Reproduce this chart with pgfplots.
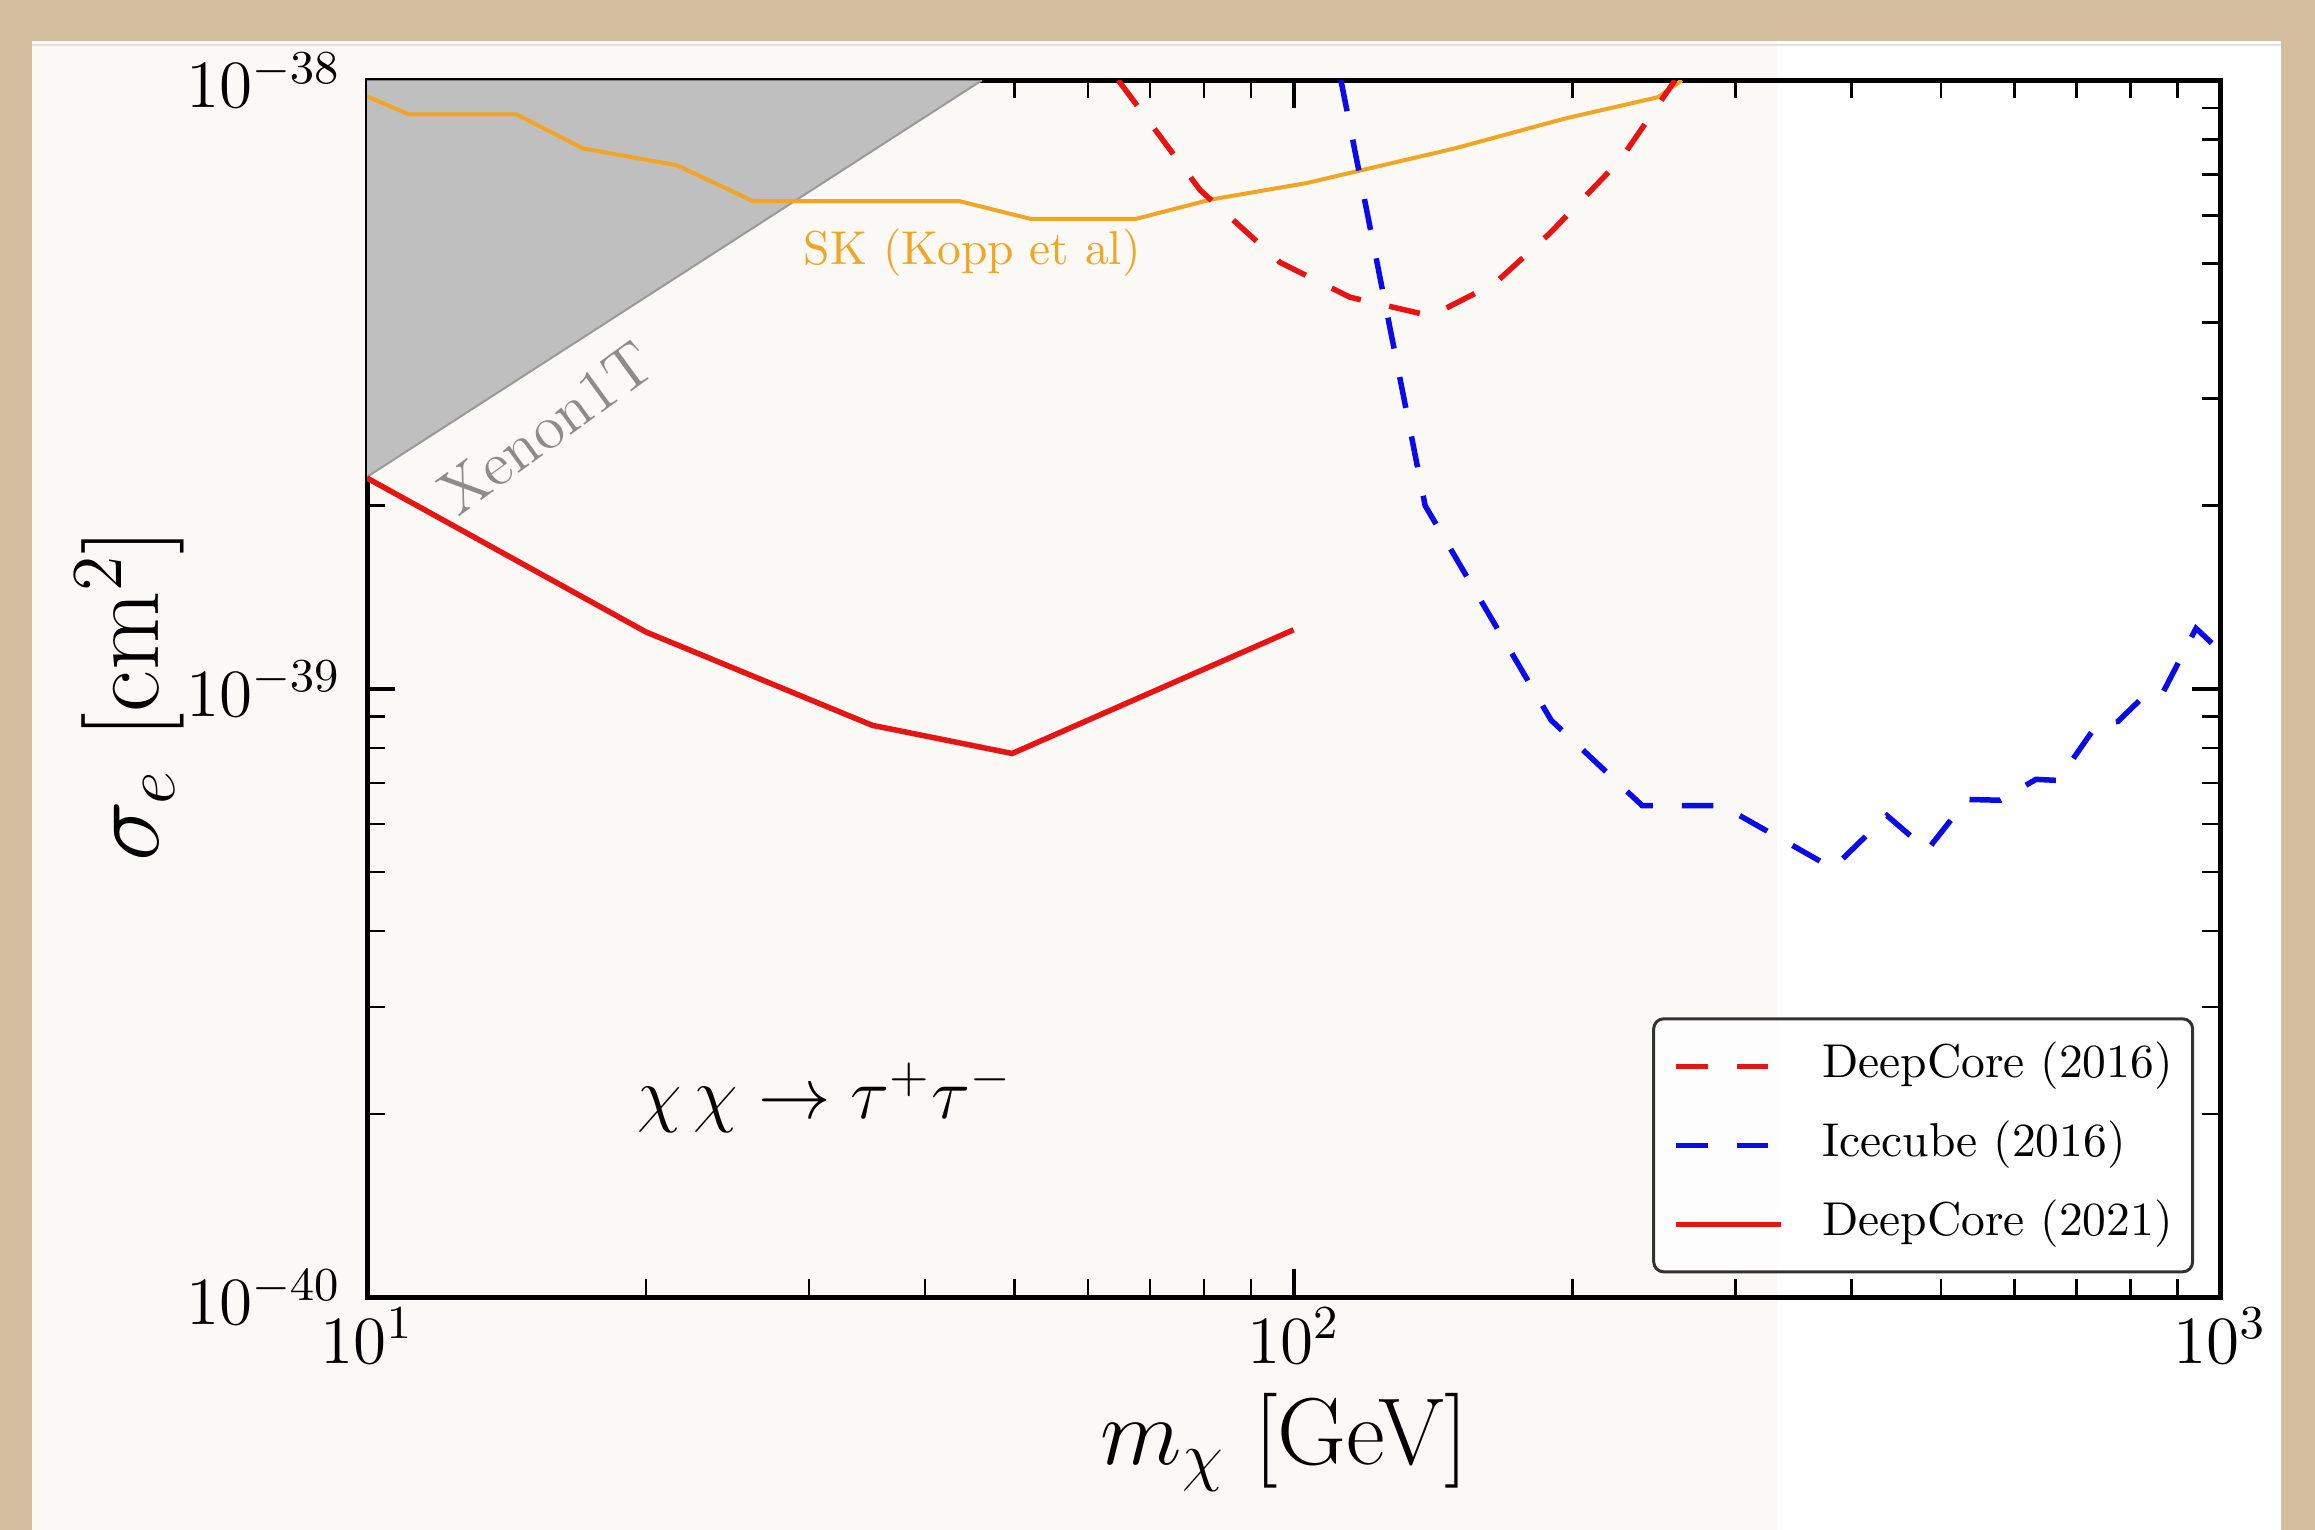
\RequirePackage{fix-cm}
\documentclass[border=0pt]{standalone}
\usepackage{pgfplots}
\pgfplotsset{compat=1.18}
\definecolor{parch}{RGB}{212,190,160}
\definecolor{paper}{RGB}{250,249,246}
\definecolor{skorange}{RGB}{242,165,35}
\definecolor{myred}{RGB}{232,20,20}
\definecolor{myblue}{RGB}{10,10,235}
\definecolor{xgray}{RGB}{191,191,191}
\definecolor{legframe}{RGB}{50,50,50}
\begin{document}
\begin{tikzpicture}
\begin{scope}[x=0.2pt,y=0.2pt]
\fill[parch] (0,0) rectangle (2315,1530);
\fill[paper] (32,0) rectangle (2281,1489);
\fill[white] (1777,0) rectangle (2281,1489);
\draw[black!12, line width=0.4pt] (32,1485) -- (2281,1485);
\end{scope}
\begin{axis}[
  at={(73.4pt,46.6pt)}, anchor=south west,
  scale only axis, width=370.6pt, height=243.4pt,
  xmode=log, ymode=log,
  xmin=10, xmax=1000, ymin=1e-40, ymax=1e-38,
  xtick={10,100,1000}, ytick={1e-40,1e-39,1e-38},
  minor xtick={20,30,40,50,60,70,80,90,200,300,400,500,600,700,800,900},
  minor ytick={2e-40,3e-40,4e-40,5e-40,6e-40,7e-40,8e-40,9e-40,2e-39,3e-39,4e-39,5e-39,6e-39,7e-39,8e-39,9e-39},
  axis line style={line width=1pt},
  tick style={color=black},
  major tick length=5.6pt, minor tick length=3.6pt,
  every major tick/.append style={line width=0.8pt},
  every minor tick/.append style={line width=0.5pt},
  xticklabel style={font=\fontsize{13.5}{13.5}\selectfont, inner sep=2pt},
  yticklabel style={font=\fontsize{13.5}{13.5}\selectfont, inner sep=5pt},
  xlabel={$m_\chi$ [GeV]},
  ylabel={$\sigma_e$ [cm$^2$]},
  xlabel style={font=\fontsize{19}{19}\selectfont, at={(axis description cs:0.495,-0.119)}, anchor=center},
  ylabel style={font=\fontsize{20.5}{20.5}\selectfont, at={(axis description cs:-0.128,0.495)}, anchor=center},
  legend style={
    at={(axis description cs:0.986,0.0197)}, anchor=south east,
    font=\fontsize{9.5}{9.5}\selectfont,
    draw=legframe, line width=0.6pt, rounded corners=2pt,
    fill=white, fill opacity=0.8, text opacity=1, draw opacity=1,
    inner xsep=4pt, inner ysep=4.75pt,
    row sep=6.3pt, column sep=7.6pt,
    nodes={inner sep=0pt, text height=7pt, text depth=2.5pt},
  },
  legend cell align=left,
  legend image code/.code={\draw[#1, rounded corners=0pt] (0pt,0pt) -- (21pt,0pt);},
]
% Xenon1T excluded region
\addplot[fill=xgray, draw=none, forget plot] coordinates {(10,2.23e-39) (46.1,1e-38) (10,1e-38)} -- cycle;
\addplot[color=black!40, line width=0.4pt, forget plot] coordinates {(10,2.23e-39) (46.1,1e-38)};
% SK (Kopp et al)
\addplot[skorange, line width=0.8pt, forget plot] coordinates {
 (10,9.41e-39) (11.1,8.79e-39) (14.5,8.79e-39) (17.1,7.73e-39) (21.6,7.25e-39)
 (26.1,6.33e-39) (43.6,6.33e-39) (52,5.92e-39) (67.6,5.92e-39) (81.5,6.37e-39)
 (103.4,6.78e-39) (149.3,7.73e-39) (196.8,8.66e-39) (247.4,9.38e-39) (262.5,1.0e-38)};
% DeepCore 2016
\addplot[myred, line width=1.1pt, dash pattern=on 6.3pt off 5.8pt] coordinates {
 (64.7,1.0e-38) (79.3,6.60e-39) (96.7,5.02e-39) (115.1,4.40e-39) (140.7,4.10e-39)
 (165.0,4.64e-39) (189.2,5.61e-39) (225.1,7.39e-39) (258.1,1.0e-38)};
\addlegendentry{DeepCore (2016)}
% IceCube 2016
\addplot[myblue, line width=1.1pt, dash pattern=on 6.3pt off 5.8pt] coordinates {
 (112.5,1.0e-38) (138.7,2.00e-39) (189.7,8.88e-40) (237.8,6.43e-40) (290,6.43e-40)
 (382,5.07e-40) (437,6.19e-40) (482.9,5.43e-40) (533.3,6.58e-40) (578.7,6.56e-40)
 (633,7.1e-40) (668.6,7.07e-40) (736.5,8.74e-40) (776,8.84e-40) (836,9.87e-40)
 (868,9.87e-40) (942,1.257e-39) (980,1.188e-39)};
\addlegendentry{Icecube (2016)}
% DeepCore 2021
\addplot[myred, line width=1.1pt] coordinates {
 (10,2.22e-39) (20,1.24e-39) (35.1,8.71e-40) (49.7,7.83e-40) (100,1.25e-39)};
\addlegendentry{DeepCore (2021)}
\node[font=\fontsize{9.5}{9.5}\selectfont, text=skorange] at (axis cs:45,5.21e-39) {SK (Kopp et al)};
\node[font=\fontsize{12.5}{12.5}\selectfont, text=black!45, rotate=36] at (axis cs:15.6,2.68e-39) {Xenon1T};
\node[font=\fontsize{14.5}{14.5}\selectfont] at (axis cs:31.2,2.13e-40) {$\chi\,\chi\to\tau^+\tau^-$};
\end{axis}
\end{tikzpicture}
\end{document}
